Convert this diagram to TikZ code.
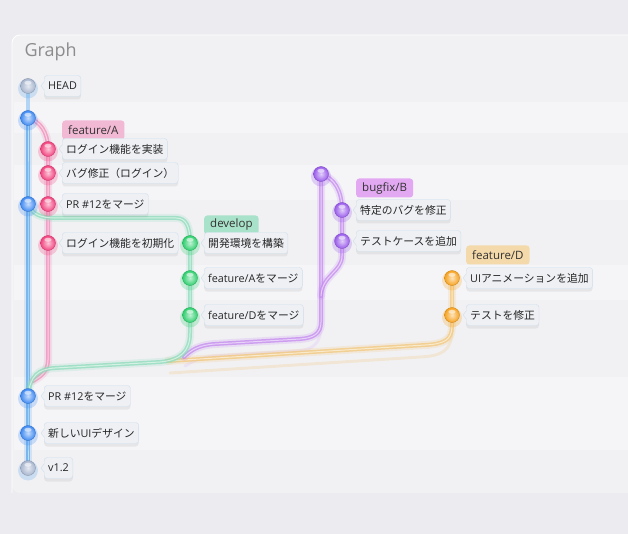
\documentclass[tikz,border=0pt]{standalone}
\usepackage{fontspec}
\setmainfont{Noto Sans CJK JP}
\newfontfamily\lat{Open Sans}
\usetikzlibrary{shadows}
\definecolor{bg}{HTML}{ECECF0}
\definecolor{panel}{HTML}{F1F1F4}
\definecolor{stripe}{HTML}{F7F7F9}
\definecolor{lblfill}{HTML}{EEF0F4}
\definecolor{lblborder}{HTML}{CFDFEC}
\definecolor{cblue}{HTML}{5AA8EC}
\definecolor{nblue}{HTML}{3F8AF2}
\definecolor{cpink}{HTML}{F08CB8}
\definecolor{npink}{HTML}{F2437F}
\definecolor{cgreen}{HTML}{8EDCBC}
\definecolor{ngreen}{HTML}{2FCF6E}
\definecolor{cpurple}{HTML}{C58AF0}
\definecolor{npurple}{HTML}{9A5CEB}
\definecolor{corange}{HTML}{F3C77A}
\definecolor{norange}{HTML}{F7A21E}
\definecolor{nhead}{HTML}{A9B6CF}
\definecolor{tpink}{HTML}{F2B9D5}
\definecolor{tgreen}{HTML}{A9E2CA}
\definecolor{tpurple}{HTML}{E2A9F2}
\definecolor{torange}{HTML}{F4D9AA}
\tikzset{
  commitnode/.style={circle, minimum size=15pt, inner sep=0pt},
  ballc/.style={commitnode, shading=radial, inner color=#1!30!white, outer color=#1,
    draw=#1!80!black, line width=0.3pt},
  lbl/.style={anchor=west, draw=lblborder, fill=lblfill, rounded corners=3pt,
    inner xsep=4pt, inner ysep=0pt, minimum height=21pt, text=black!85,
    font=\fontsize{10.8}{13}\selectfont,
    drop shadow={shadow xshift=0pt, shadow yshift=-3pt, opacity=0.12}},
  tag/.style={anchor=west, rounded corners=3pt, inner xsep=6pt, inner ysep=0pt,
    minimum height=19pt, text=black!80, font=\lat\fontsize{11.5}{14}\selectfont},
  glowline/.style={line width=8pt, opacity=0.2, line cap=round, line join=round},
  mainline/.style={line width=4pt, opacity=0.75, line cap=round, line join=round},
  shine/.style={white, line width=1pt, opacity=0.55, line cap=round, line join=round},
  faint/.style={line width=3pt, opacity=0.25, line cap=round}
}
\newcommand\branchpath[2]{%
  \draw[#1, glowline] #2;
  \draw[#1, mainline] #2;
  \draw[shine] #2;}
\begin{document}
\begin{tikzpicture}[x=1pt,y=-1pt]
\useasboundingbox (0,0) rectangle (628,534);
\fill[bg] (0,0) rectangle (628,534);
\fill[panel, rounded corners=8pt] (12,35) rectangle (680,493);
\draw[white, line width=0.8pt, rounded corners=8pt] (12,493) -- (12,35) -- (680,35);
% stripes
\foreach \a/\b in {102/133, 165/200, 265/300, 377/413, 413/450}
  \fill[stripe, opacity=0.8] (14,\a) rectangle (628,\b);
\node[anchor=west, text=black!45, font=\lat\fontsize{18}{22}\selectfont] (title) at (21,52) {Graph};

% commit positions
\node[commitnode] (H) at (28,86) {};
\node[commitnode] (B1) at (28,118) {};
\node[commitnode] (A1) at (48,149) {};
\node[commitnode] (A2) at (48,173) {};
\node[commitnode] (A3) at (48,204) {};
\node[commitnode] (M1) at (28,204) {};
\node[commitnode] (A4) at (48,243) {};
\node[commitnode] (D1) at (190,243) {};
\node[commitnode] (D2) at (190,278) {};
\node[commitnode] (D3) at (190,315) {};
\node[commitnode] (P0) at (321,174) {};
\node[commitnode] (P1) at (342,210) {};
\node[commitnode] (P2) at (342,241) {};
\node[commitnode] (F1) at (452,278) {};
\node[commitnode] (F2) at (452,315) {};
\node[commitnode] (M2) at (28,396) {};
\node[commitnode] (N1) at (28,433) {};
\node[commitnode] (V1) at (28,468) {};

% connectors
\draw[cblue!60, mainline] (H.center) -- (B1.center);
\branchpath{cblue}{(B1.center) -- (M1.center) -- (M2.center) -- (N1.center) -- (V1.center)}
\coordinate (pinkEnd) at (33,381);
\branchpath{cpink}{(B1.center) .. controls (40,121) and (48,132) .. (A1.center) -- (A2.center) -- (A3.center) -- (A4.center) -- (48,360) .. controls (48,372) and (40,377) .. (pinkEnd)}
\coordinate (mergeG) at (168,361);
\draw[corange, faint] (452,330) .. controls (452,352) and (440,356) .. (420,357) -- (170,373);
\draw[cpurple!60, faint] (321,325) .. controls (321,345) and (312,350) .. (296,351) -- (215,356) .. controls (200,357) and (192,362) .. (185,366);
\branchpath{corange}{(F1.center) -- (F2.center) -- (452,326) .. controls (452,340) and (444,344) .. (425,345) -- (mergeG)}
\coordinate (mergeP) at (184,357);
\branchpath{cpurple}{(P0.center) -- (321,322) .. controls (321,334) and (313,338) .. (300,339) -- (215,344) .. controls (199,345) and (191,350) .. (mergeP)}
\branchpath{cpurple}{(P0.center) .. controls (334,178) and (342,190) .. (P1.center) -- (P2.center) -- (342,256) .. controls (342,272) and (322,275) .. (321,296)}
\branchpath{cgreen}{(M1.center) .. controls (32,214) and (40,218) .. (56,218) -- (176,218) .. controls (186,218) and (190,226) .. (D1.center) -- (D2.center) -- (D3.center) -- (190,333) .. controls (190,352) and (180,360) .. (160,362) -- (55,368) .. controls (38,369) and (30,376) .. (M2.center)}

% glow halos and glossy balls on top
\foreach \n/\c in {H/cblue, B1/nblue, A1/npink, A2/npink, A3/npink, M1/nblue, A4/npink, D1/ngreen, D2/ngreen, D3/ngreen, P0/npurple, P1/npurple, P2/npurple, F1/norange, F2/norange, M2/nblue, N1/nblue, V1/cblue}
  \fill[\c, opacity=0.25] ([yshift=-2.5pt]\n.center) circle (10pt);
\foreach \n/\c in {H/nhead, B1/nblue, A1/npink, A2/npink, A3/npink, M1/nblue, A4/npink, D1/ngreen, D2/ngreen, D3/ngreen, P0/npurple, P1/npurple, P2/npurple, F1/norange, F2/norange, M2/nblue, N1/nblue, V1/nhead}{
  \node[ballc=\c] at (\n) {};
  \fill[white, opacity=0.55] ([yshift=3.2pt]\n.center) ellipse (3.6pt and 2pt);
}

% branch tags
\node[tag, fill=tpink] (tA) at (62,130) {feature/A};
\node[tag, fill=tgreen] (tD) at (204,225) {develop};
\node[tag, fill=tpurple] (tB) at (356,188) {bugfix/B};
\node[tag, fill=torange] (tF) at (466,255) {feature/D};

% commit labels
\node[lbl] (lH) at (44,86) {\lat HEAD};
\node[lbl] (lA1) at (62,149) {ログイン機能を実装};
\node[lbl] (lA2) at (62,173) {バグ修正（ログイン）};
\node[lbl] (lA3) at (62,204) {{\lat PR \#12}をマージ};
\node[lbl] (lA4) at (62,243) {ログイン機能を初期化};
\node[lbl] (lD1) at (204,243) {開発環境を構築};
\node[lbl] (lD2) at (204,278) {{\lat feature/A}をマージ};
\node[lbl] (lD3) at (204,315) {{\lat feature/D}をマージ};
\node[lbl] (lP1) at (356,210) {特定のバグを修正};
\node[lbl] (lP2) at (356,241) {テストケースを追加};
\node[lbl] (lF1) at (466,278) {{\lat UI}アニメーションを追加};
\node[lbl] (lF2) at (466,315) {テストを修正};
\node[lbl] (lM2) at (44,396) {{\lat PR \#12}をマージ};
\node[lbl] (lN1) at (44,433) {新しい{\lat UI}デザイン};
\node[lbl] (lV1) at (44,468) {\lat v1.2};
\foreach \n in {lH,lA1,lA2,lA3,lA4,lD1,lD2,lD3,lP1,lP2,lF1,lF2,lM2,lN1,lV1}{
  \fill[lblfill] ([xshift=0.8pt,yshift=4pt]\n.west) -- ([xshift=-3pt]\n.west) -- ([xshift=0.8pt,yshift=-4pt]\n.west) -- cycle;
  \draw[lblborder, line width=0.4pt] ([xshift=0pt,yshift=4pt]\n.west) -- ([xshift=-3pt]\n.west) -- ([xshift=0pt,yshift=-4pt]\n.west);
}
\end{tikzpicture}
\end{document}
